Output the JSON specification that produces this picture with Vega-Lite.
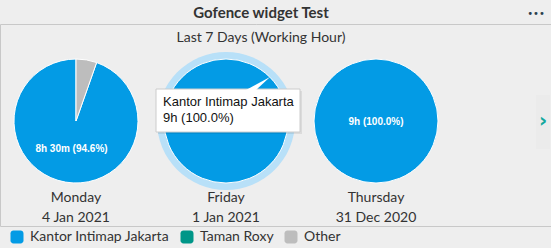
{
  "$schema": "https://vega.github.io/schema/vega-lite/v6.json",
  "width": 551,
  "height": 202,
  "autosize": {"type": "none"},
  "padding": {"left": 0, "top": 24, "right": 0, "bottom": 22},
  "background": "#eeeeee",
  "title": {
    "text": "Gofence widget Test",
    "anchor": "middle",
    "frame": "group",
    "font": "Lato",
    "fontSize": 15,
    "fontWeight": "bold",
    "color": "#333333",
    "dx": -14.5,
    "dy": 17,
    "offset": 5
  },
  "config": {
    "view": {"stroke": "#c8c8c8", "fill": "white"},
    "legend": {
      "orient": "none",
      "legendX": 10,
      "legendY": 206,
      "direction": "horizontal",
      "symbolType": "M-0.55,-1H0.55A0.45,0.45,0,0,1,1,-0.55V0.55A0.45,0.45,0,0,1,0.55,1H-0.55A0.45,0.45,0,0,1,-1,0.55V-0.55A0.45,0.45,0,0,1,-0.55,-1Z",
      "symbolSize": 169,
      "symbolStrokeWidth": 0,
      "symbolOpacity": 1,
      "labelFont": "Lato",
      "labelFontSize": 14,
      "labelColor": "#333333",
      "labelOffset": 6,
      "columnPadding": 10,
      "padding": 0
    }
  },
  "datasets": {
    "slices": [
      {"day": "Monday", "location": "Kantor Intimap Jakarta", "share": 94.6, "label": "8h 30m (94.6%)"},
      {"day": "Monday", "location": "Other", "share": 5.4, "label": "29m (5.4%)"},
      {"day": "Friday", "location": "Kantor Intimap Jakarta", "share": 100.0, "label": "9h (100.0%)"},
      {"day": "Thursday", "location": "Kantor Intimap Jakarta", "share": 100.0, "label": "9h (100.0%)"}
    ],
    "days": [
      {"day": "Monday", "date": "4 Jan 2021"},
      {"day": "Friday", "date": "1 Jan 2021"},
      {"day": "Thursday", "date": "31 Dec 2020"}
    ],
    "hover": [
      {"day": "Friday", "location": "Kantor Intimap Jakarta", "label": "9h (100.0%)"}
    ]
  },
  "layer": [
    {
      "data": {"name": "hover"},
      "mark": {"type": "arc", "radius": 69, "theta": 0, "theta2": 6.2832, "fill": "#b8e0f8", "yOffset": -4},
      "encoding": {
        "x": {"field": "day", "type": "nominal", "scale": {"type": "point", "domain": ["Monday", "Friday", "Thursday"], "range": [76, 376], "padding": 0}, "axis": null}
      }
    },
    {
      "data": {"name": "slices"},
      "transform": [
        {"stack": "share", "groupby": ["day"], "sort": [{"field": "location", "order": "descending"}], "as": ["start", "end"], "offset": "normalize"}
      ],
      "mark": {"type": "arc", "radius": 62, "stroke": "white", "strokeWidth": 1, "yOffset": -4},
      "encoding": {
        "x": {"field": "day", "type": "nominal", "axis": null},
        "theta": {"field": "start", "type": "quantitative", "stack": null, "scale": {"domain": [0, 1]}},
        "theta2": {"field": "end"},
        "color": {
          "field": "location",
          "type": "nominal",
          "scale": {"domain": ["Kantor Intimap Jakarta", "Taman Roxy", "Other"], "range": ["#039be5", "#009688", "#bdbdbd"]},
          "legend": {"title": null}
        }
      }
    },
    {
      "data": {"name": "slices"},
      "transform": [{"filter": "datum.location == 'Kantor Intimap Jakarta' && datum.share < 100"}],
      "mark": {"type": "text", "font": "Liberation Sans", "fontSize": 10, "fontWeight": "bold", "color": "white", "baseline": "middle", "dx": -4.5, "dy": 24},
      "encoding": {
        "x": {"field": "day", "type": "nominal", "axis": null},
        "text": {"field": "label"}
      }
    },
    {
      "data": {"name": "slices"},
      "transform": [{"filter": "datum.share >= 100 && datum.day != 'Friday'"}],
      "mark": {"type": "text", "font": "Liberation Sans", "fontSize": 10, "fontWeight": "bold", "color": "white", "baseline": "middle", "dy": -3},
      "encoding": {
        "x": {"field": "day", "type": "nominal", "axis": null},
        "text": {"field": "label"}
      }
    },
    {
      "data": {"name": "hover"},
      "mark": {"type": "rect", "fill": "#000000", "opacity": 0.08, "y": 67, "y2": 110, "xOffset": -68, "x2Offset": 76},
      "encoding": {
        "x": {"field": "day", "type": "nominal", "axis": null},
        "x2": {"field": "day"}
      }
    },
    {
      "data": {"name": "hover"},
      "mark": {"type": "rect", "fill": "white", "stroke": "#cccccc", "strokeWidth": 1, "y": 65, "y2": 108, "xOffset": -70, "x2Offset": 74},
      "encoding": {
        "x": {"field": "day", "type": "nominal", "axis": null},
        "x2": {"field": "day"}
      }
    },
    {
      "data": {"name": "hover"},
      "mark": {"type": "point", "shape": "M-0.4,0.1L0.6,0.1L2,-1.2Z", "size": 400, "filled": true, "fill": "white", "opacity": 1, "strokeWidth": 0, "xOffset": 24, "yOffset": -36},
      "encoding": {
        "x": {"field": "day", "type": "nominal", "axis": null}
      }
    },
    {
      "data": {"name": "hover"},
      "mark": {"type": "text", "font": "Liberation Sans", "fontSize": 13, "color": "#111111", "align": "left", "baseline": "middle", "dx": -63, "dy": -23},
      "encoding": {
        "x": {"field": "day", "type": "nominal", "axis": null},
        "text": {"field": "location"}
      }
    },
    {
      "data": {"name": "hover"},
      "mark": {"type": "text", "font": "Liberation Sans", "fontSize": 13, "color": "#111111", "align": "left", "baseline": "middle", "dx": -63, "dy": -7},
      "encoding": {
        "x": {"field": "day", "type": "nominal", "axis": null},
        "text": {"field": "label"}
      }
    },
    {
      "data": {"name": "days"},
      "mark": {"type": "text", "font": "Lato", "fontSize": 14, "color": "#333333", "baseline": "middle", "dy": 73},
      "encoding": {
        "x": {"field": "day", "type": "nominal", "axis": null},
        "text": {"field": "day"}
      }
    },
    {
      "data": {"name": "days"},
      "mark": {"type": "text", "font": "Lato", "fontSize": 14, "color": "#333333", "baseline": "middle", "dy": 93},
      "encoding": {
        "x": {"field": "day", "type": "nominal", "axis": null},
        "text": {"field": "date"}
      }
    },
    {
      "data": {"values": [{"t": "Last 7 Days (Working Hour)"}]},
      "mark": {"type": "text", "font": "Lato", "fontSize": 14, "color": "#333333", "baseline": "middle", "dx": -14.5, "dy": -87},
      "encoding": {"text": {"field": "t"}}
    },
    {
      "data": {"values": [{"t": "•••"}]},
      "mark": {"type": "text", "font": "DejaVu Sans", "fontSize": 10, "color": "#2c3e50", "baseline": "middle", "align": "center", "x": {"expr": "width - 15"}, "y": -10},
      "encoding": {"text": {"field": "t"}}
    },
    {
      "data": {"values": [{"t": "›"}]},
      "mark": {"type": "rect", "fill": "#ebebeb", "x": {"expr": "width - 15"}, "x2": {"expr": "width - 1"}, "y": 71, "y2": 125},
      "encoding": {}
    },
    {
      "data": {"values": [{"t": "›"}]},
      "mark": {"type": "text", "font": "DejaVu Sans", "fontSize": 20, "fontWeight": "bold", "color": "#13a89e", "baseline": "middle", "align": "center", "x": {"expr": "width - 8"}, "y": 97},
      "encoding": {"text": {"field": "t"}}
    }
  ]
}
